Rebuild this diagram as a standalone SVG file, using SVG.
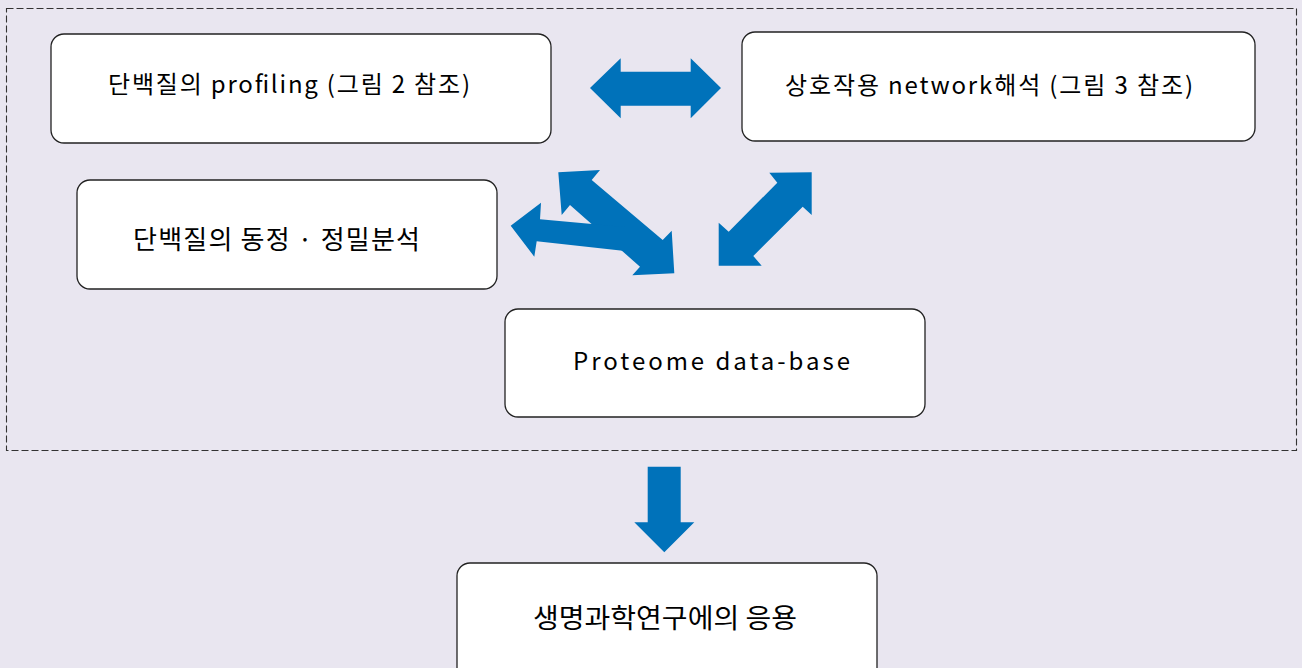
<svg xmlns="http://www.w3.org/2000/svg" width="1302" height="668" viewBox="0 0 1302 668">
<style>
.box{fill:#ffffff;stroke:#222222;stroke-width:1.3}
.lbl{font-family:"Noto Sans CJK KR","Noto Sans",sans-serif;fill:#000000}
.arr{fill:#0072BA;stroke:none}
</style>
<rect x="0" y="0" width="1302" height="668" fill="#E9E6F0"/>
<rect x="6.5" y="8.5" width="1290" height="442" fill="none" stroke="#333333" stroke-width="1.1" stroke-dasharray="7 3"/>
<g id="n1"><rect class="box" x="51" y="34" width="500" height="109" rx="13"/><text class="lbl" x="108" y="93" font-size="24" textLength="362" lengthAdjust="spacing">단백질의 profiling (그림 2 참조)</text></g>
<g id="n2"><rect class="box" x="742" y="32" width="513" height="109" rx="13"/><text class="lbl" x="785" y="94" font-size="24" textLength="408" lengthAdjust="spacing">상호작용 network해석 (그림 3 참조)</text></g>
<g id="n3"><rect class="box" x="77" y="180" width="420" height="109" rx="13"/><text class="lbl" x="133" y="249" font-size="26" textLength="287" lengthAdjust="spacing">단백질의 동정 · 정밀분석</text></g>
<g id="n4"><rect class="box" x="505" y="309" width="420" height="108" rx="13"/><text class="lbl" x="573" y="370" font-size="24" textLength="277" lengthAdjust="spacing">Proteome data-base</text></g>
<g id="n5"><rect class="box" x="457" y="563" width="420" height="120" rx="13"/><text class="lbl" x="533" y="628" font-size="27" textLength="264" lengthAdjust="spacingAndGlyphs">생명과학연구에의 응용</text></g>
<g id="connectors">
<polygon class="arr" points="590,88 620.7,58.3 620.7,71.7 690.7,71.7 690.7,58.3 721,88 690.7,118.3 690.7,105.7 620.7,105.7 620.7,118.3"/>
<polygon class="arr" points="811.7,172.3 811.7,215 802.7,206.7 753.3,256 761.7,265.7 718.7,265.7 718.7,222.7 728.7,231.7 777.3,182.7 769.3,172.7"/>
<polygon class="arr" points="558.3,172.3 600,170 591.7,180 662.7,240 671.7,230.7 674.3,273.3 632.3,275.3 640,266.7 570,205 561.7,215"/>
<polygon class="arr" points="510.7,225.7 541,202.7 540,219.3 625,227 625,251 536.7,241.3 534.3,256.7"/>
<polygon class="arr" points="647.7,466.7 680.7,466.7 680.7,522.3 694.3,522.3 664.3,552.3 634.3,522.3 647.7,522.3"/>
</g>
</svg>
